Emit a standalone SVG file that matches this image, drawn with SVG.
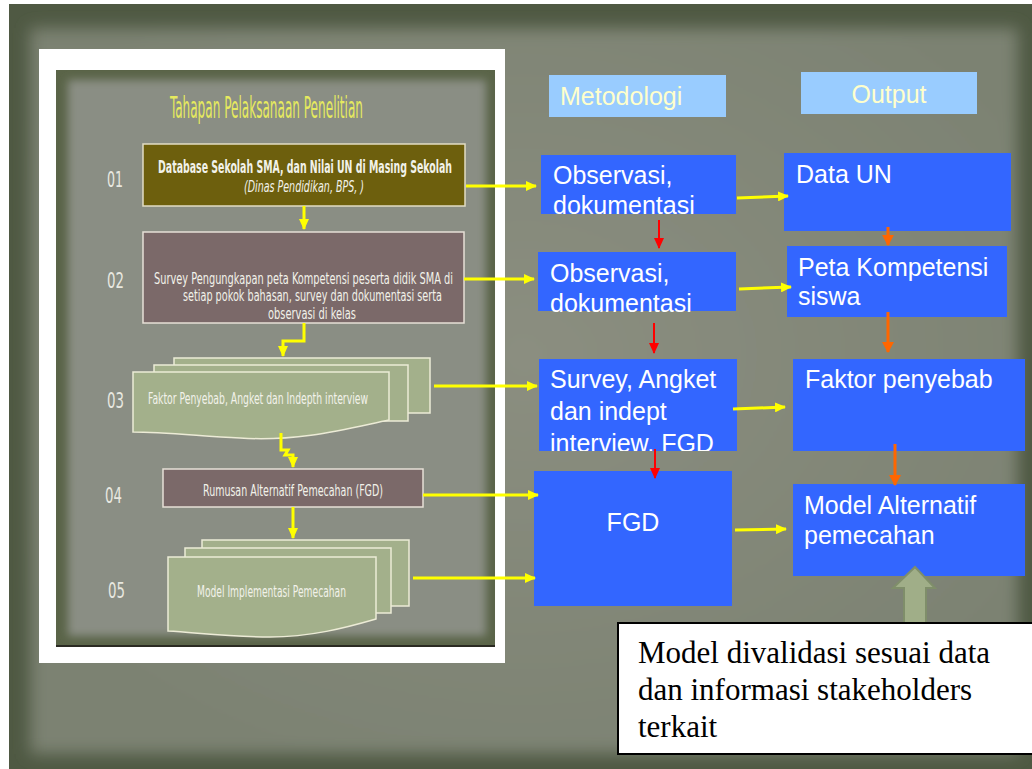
<svg xmlns="http://www.w3.org/2000/svg" width="1032" height="769" viewBox="0 0 1032 769">
<defs>
<filter id="blur8" x="-10%" y="-10%" width="120%" height="120%"><feGaussianBlur stdDeviation="8"/></filter>
<filter id="blur4" x="-10%" y="-10%" width="120%" height="120%"><feGaussianBlur stdDeviation="4"/></filter>
<radialGradient id="bgGrad" cx="50%" cy="45%" r="60%">
<stop offset="0" stop-color="#8b8e80"/>
<stop offset="1" stop-color="#7c8272"/>
</radialGradient>
<marker id="ay" markerUnits="userSpaceOnUse" markerWidth="12" markerHeight="10" refX="10" refY="5" orient="auto"><path d="M0,0 L11,5 L0,10 Z" fill="#ffff00"/></marker>
<marker id="ar" markerUnits="userSpaceOnUse" markerWidth="12" markerHeight="10" refX="10" refY="5" orient="auto"><path d="M0,0 L11,5 L0,10 Z" fill="#ff0000"/></marker>
<marker id="ao" markerUnits="userSpaceOnUse" markerWidth="12" markerHeight="12" refX="10" refY="6" orient="auto"><path d="M0,0 L11,6 L0,12 Z" fill="#ff6600"/></marker>
<clipPath id="clipM3"><rect x="539" y="359" width="198" height="92"/></clipPath>
<style>
.yl{stroke:#ffff00;stroke-width:3;fill:none}
.rd{stroke:#ff0000;stroke-width:2;fill:none}
.or{stroke:#ff6600;stroke-width:3;fill:none}
.blue{fill:#3366ff}
.bt{font-family:"Liberation Sans",Arial,sans-serif;font-size:25px;fill:#ffffff}
.hdr{fill:#99ccff}
.ht{font-family:"Liberation Sans",Arial,sans-serif;font-size:25px;fill:#ffffcc}
.cond{font-family:"Liberation Sans Narrow","DejaVu Sans Condensed","Liberation Sans",sans-serif;fill:#f2f2ea}
.num{font-family:"Liberation Sans Narrow","DejaVu Sans Condensed","Liberation Sans",sans-serif;font-size:22px;fill:#e8e8e0}
.sage{fill:#a3b08b;stroke:#ecebd6;stroke-width:1.5}
.mauve{fill:#7b6969;stroke:#e6e0d6;stroke-width:1.5}
</style>
</defs>

<!-- background slide -->
<rect x="0" y="0" width="1032" height="769" fill="#ffffff"/>
<rect x="9" y="4" width="1023" height="765" fill="#4f5943"/>
<rect x="30" y="28" width="988" height="726" fill="url(#bgGrad)" filter="url(#blur8)"/>

<!-- embedded left picture -->
<g id="picture">
<rect x="39" y="49" width="466" height="614" fill="#ffffff"/>
<rect x="56" y="70" width="439" height="577" fill="#5a6448"/>
<rect x="68" y="80" width="418" height="556" fill="#8a8e84" filter="url(#blur4)"/>
<line x1="56" y1="646" x2="495" y2="646" stroke="#2a2a22" stroke-width="2"/>
<text x="170" y="118" class="cond" font-size="30" style="fill:#e6ea5e" textLength="193" lengthAdjust="spacingAndGlyphs">Tahapan Pelaksanaan Penelitian</text>
</g>

<g id="step01">
<text x="107" y="187" class="num" textLength="16" lengthAdjust="spacingAndGlyphs">01</text>
<rect x="143" y="144" width="322" height="62" fill="#6d5f0d" stroke="#e2ddc4" stroke-width="1.5"/>
<text x="158" y="173" class="cond" font-size="17" font-weight="bold" textLength="294" lengthAdjust="spacingAndGlyphs">Database  Sekolah SMA, dan Nilai UN di Masing Sekolah</text>
<text x="244" y="192" class="cond" font-size="15" font-style="italic" textLength="120" lengthAdjust="spacingAndGlyphs">(Dinas Pendidikan, BPS, )</text>
</g>

<g id="step02">
<text x="107" y="288" class="num" textLength="17" lengthAdjust="spacingAndGlyphs">02</text>
<rect x="143" y="232" width="321" height="91" class="mauve"/>
<text x="154" y="284" class="cond" font-size="16.5" textLength="299" lengthAdjust="spacingAndGlyphs">Survey Pengungkapan peta Kompetensi peserta didik SMA di</text>
<text x="183" y="301" class="cond" font-size="16.5" textLength="259" lengthAdjust="spacingAndGlyphs">setiap pokok bahasan, survey dan dokumentasi serta</text>
<text x="268" y="319" class="cond" font-size="16.5" textLength="88" lengthAdjust="spacingAndGlyphs">observasi di kelas</text>
</g>

<g id="step03">
<text x="107" y="408" class="num" textLength="17" lengthAdjust="spacingAndGlyphs">03</text>
<rect x="174" y="358" width="256" height="55" class="sage"/>
<rect x="154" y="365" width="254" height="56" class="sage"/>
<path d="M133,372 H389 V420 C350,428 300,442 240,438 C190,435 160,432 133,432 Z" class="sage"/>
<text x="148" y="404" class="cond" font-size="16" textLength="220" lengthAdjust="spacingAndGlyphs">Faktor Penyebab, Angket dan Indepth interview</text>
</g>

<g id="step04">
<text x="105" y="503" class="num" textLength="17" lengthAdjust="spacingAndGlyphs">04</text>
<rect x="163" y="469" width="260" height="38" class="mauve"/>
<text x="203" y="496" class="cond" font-size="16" textLength="180" lengthAdjust="spacingAndGlyphs">Rumusan Alternatif  Pemecahan (FGD)</text>
</g>

<g id="step05">
<text x="108" y="598" class="num" textLength="17" lengthAdjust="spacingAndGlyphs">05</text>
<rect x="202" y="540" width="207" height="66" class="sage"/>
<rect x="185" y="548" width="206" height="65" class="sage"/>
<path d="M168,557 H376 V619 C345,628 310,637 270,637 C230,637 200,633 168,631 Z" class="sage"/>
<text x="197" y="597" class="cond" font-size="16" textLength="149" lengthAdjust="spacingAndGlyphs">Model Implementasi Pemecahan</text>
</g>

<!-- headers -->
<g id="hdr-metodologi">
<rect x="549" y="75" width="177" height="42" class="hdr"/>
<text x="560" y="105" class="ht">Metodologi</text>
</g>
<g id="hdr-output">
<rect x="801" y="72" width="176" height="42" class="hdr"/>
<text x="889" y="103" class="ht" text-anchor="middle">Output</text>
</g>

<!-- Metodologi boxes -->
<g id="m1">
<rect x="541" y="155" width="195" height="59" class="blue"/>
<text class="bt"><tspan x="553" y="184">Observasi,</tspan><tspan x="553" y="214">dokumentasi</tspan></text>
</g>
<g id="m2">
<rect x="538" y="252" width="198" height="59" class="blue"/>
<text class="bt"><tspan x="550" y="282">Observasi,</tspan><tspan x="550" y="312">dokumentasi</tspan></text>
</g>
<g id="m3">
<rect x="539" y="359" width="198" height="92" class="blue"/>
<text class="bt" clip-path="url(#clipM3)"><tspan x="550" y="388">Survey, Angket</tspan><tspan x="550" y="420">dan indept</tspan><tspan x="550" y="452">interview, FGD</tspan></text>
</g>
<g id="m4">
<rect x="534" y="471" width="198" height="135" class="blue"/>
<text x="633" y="531" class="bt" text-anchor="middle">FGD</text>
</g>

<!-- Output boxes -->
<g id="o1">
<rect x="784" y="153" width="227" height="78" class="blue"/>
<text x="796" y="183" class="bt">Data UN</text>
</g>
<g id="o2">
<rect x="787" y="246" width="220" height="71" class="blue"/>
<text class="bt"><tspan x="798" y="276">Peta Kompetensi</tspan><tspan x="798" y="305">siswa</tspan></text>
</g>
<g id="o3">
<rect x="793" y="359" width="232" height="92" class="blue"/>
<text x="805" y="388" class="bt">Faktor penyebab</text>
</g>
<g id="o4">
<rect x="793" y="484" width="232" height="92" class="blue"/>
<text class="bt"><tspan x="804" y="514">Model Alternatif</tspan><tspan x="804" y="544">pemecahan</tspan></text>
</g>

<!-- connectors -->
<g id="connectors">
<path d="M304,206 V229" class="yl" stroke-width="2" marker-end="url(#ay)"/>
<path d="M304,323 V341 H283 V356" class="yl" stroke-width="2.5" marker-end="url(#ay)"/>
<path d="M281,433 V450 L288,450 L285,455 L293,455 V467" class="yl" stroke-width="2.5" marker-end="url(#ay)"/>
<path d="M293,507 V538" class="yl" stroke-width="2" marker-end="url(#ay)"/>

<path d="M466,186 H536" class="yl" marker-end="url(#ay)"/>
<path d="M464,279 H534" class="yl" marker-end="url(#ay)"/>
<path d="M434,386 H537" class="yl" marker-end="url(#ay)"/>
<path d="M423,495 H538" class="yl" marker-end="url(#ay)"/>
<path d="M413,578 H535" class="yl" marker-end="url(#ay)"/>

<path d="M737,198 L788,196" class="yl" marker-end="url(#ay)"/>
<path d="M739,289 L791,287" class="yl" marker-end="url(#ay)"/>
<path d="M733,409 L785,407" class="yl" marker-end="url(#ay)"/>
<path d="M735,530 L786,529" class="yl" marker-end="url(#ay)"/>

<path d="M659,220 V248" class="rd" marker-end="url(#ar)"/>
<path d="M654,323 V353" class="rd" marker-end="url(#ar)"/>
<path d="M655,449 V478" class="rd" marker-end="url(#ar)"/>

<path d="M888,227 V245" class="or" stroke-width="2" marker-end="url(#ao)"/>
<path d="M888,312 V352" class="or" marker-end="url(#ao)"/>
<path d="M895,444 V485" class="or" marker-end="url(#ao)"/>

<path d="M915,567 L935,588 L926,588 L926,624 L904,624 L904,588 L893,588 Z" fill="#a0ae88" stroke="#7f8e6a" stroke-width="2"/>
</g>

<!-- note -->
<g id="note">
<rect x="618" y="623" width="420" height="131" fill="#ffffff" stroke="#000000" stroke-width="2"/>
<text font-family="'Liberation Serif','Times New Roman',serif" font-size="31" fill="#000000"><tspan x="638" y="663">Model divalidasi sesuai data</tspan><tspan x="638" y="700">dan informasi stakeholders</tspan><tspan x="638" y="737">terkait</tspan></text>
</g>
</svg>
